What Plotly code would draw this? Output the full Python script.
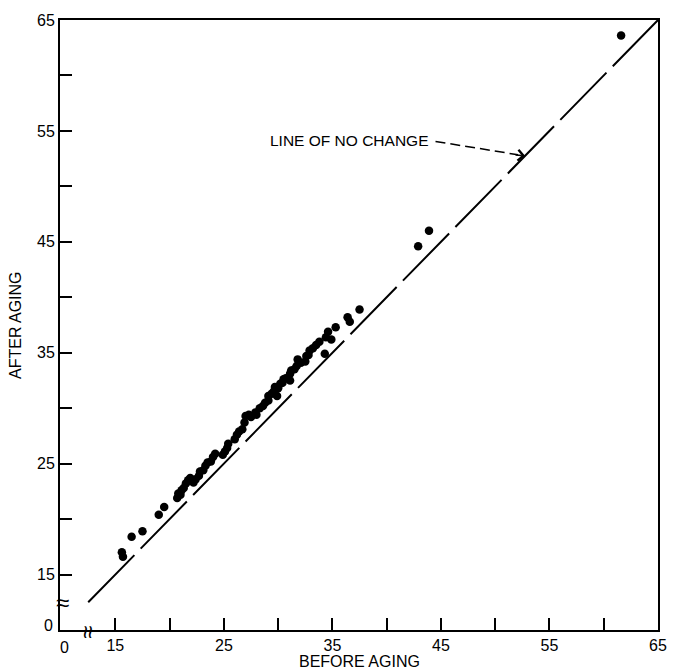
import plotly.graph_objects as go

# values (before aging, after aging)
before = [15.6, 15.7, 16.5, 17.5, 19.0, 19.5,
          20.7, 20.8, 21.1, 21.0, 21.5, 21.3, 21.7, 21.9, 22.2, 22.4, 22.7, 22.8,
          23.1, 23.3, 23.5, 23.8, 24.0, 24.2, 24.9, 25.1, 25.3, 25.4, 26.0, 26.2,
          26.4, 26.7, 26.9, 27.0, 27.3, 27.5, 27.9, 28.0, 28.3, 28.6, 28.8, 29.1,
          29.1, 29.4, 29.6, 29.7, 29.9, 30.0, 30.2, 30.4, 30.5, 30.7, 31.1, 31.1,
          31.2, 31.5, 31.7, 31.8, 32.1, 32.5, 32.6, 32.8, 32.9, 33.2, 33.5, 33.8,
          34.3, 34.4, 34.6, 34.9, 35.3, 36.4, 36.6, 37.5, 42.9, 43.9, 61.6]
after = [17.0, 16.6, 18.4, 18.9, 20.4, 21.1,
         21.9, 22.3, 22.6, 22.2, 23.2, 22.8, 23.5, 23.7, 23.3, 23.6, 23.9, 24.3,
         24.4, 24.8, 25.1, 25.2, 25.6, 25.9, 25.8, 26.1, 26.4, 26.8, 27.2, 27.6,
         27.9, 28.1, 28.7, 29.3, 29.4, 29.2, 29.6, 29.4, 30.0, 30.2, 30.5, 30.7,
         31.1, 31.3, 31.5, 31.9, 31.1, 31.8, 32.2, 32.3, 32.6, 32.7, 33.1, 32.5,
         33.4, 33.5, 33.8, 34.4, 34.1, 34.2, 34.7, 34.8, 35.2, 35.4, 35.7, 36.0,
         34.9, 36.4, 36.9, 36.2, 37.3, 38.2, 37.8, 38.9, 44.6, 46.0, 63.6]

major_ticks = [15, 25, 35, 45, 55, 65]
minor_ticks = [20, 30, 40, 50, 60]
major_labels = ["15", "25", "35", "45", "55", "65"]

x_range = [9.9, 65]
y_range = [10.0, 65]
no_change = [12.5, 65]          # extent of the line of no change
x_zero_pos, y_zero_pos = 10.3, 10.4   # where the broken-axis "0" labels sit
break_pos = 12.6

FONT = "Liberation Sans, Arial, Helvetica, sans-serif"

fig = go.Figure()
fig.add_trace(go.Scatter(x=no_change, y=no_change, mode="lines",
                         line=dict(color="black", width=2, dash="66px,9px"),
                         hoverinfo="skip", showlegend=False))
fig.add_trace(go.Scatter(x=before, y=after, mode="markers",
                         marker=dict(color="black", size=8.5),
                         showlegend=False))

axis_common = dict(
    tickvals=major_ticks, ticktext=major_labels,
    ticks="inside", ticklen=12, tickwidth=1.5, tickcolor="black",
    showline=True, linecolor="black", linewidth=2, mirror=True,
    showgrid=False, zeroline=False,
    minor=dict(tickvals=minor_ticks, ticks="inside", ticklen=12,
               tickwidth=1.5, tickcolor="black", showgrid=False),
    tickfont=dict(family=FONT, size=16, color="black"),
)

fig.update_layout(
    width=679, height=672,
    margin=dict(l=60, r=16, t=20, b=42),
    paper_bgcolor="white", plot_bgcolor="white",
    xaxis=dict(range=x_range, **axis_common),
    yaxis=dict(range=y_range, **axis_common),
    font=dict(family=FONT, color="black"),
)

ann = [
    dict(x=x_zero_pos, y=0, xref="x", yref="paper", text="0", showarrow=False,
         yanchor="top", yshift=-7, font=dict(size=16)),
    dict(x=0, y=y_zero_pos, xref="paper", yref="y", text="0", showarrow=False,
         xanchor="right", xshift=-5, font=dict(size=16)),
    dict(x=0, y=break_pos, xref="paper", yref="y", text="≈", showarrow=False,
         xshift=-6, yshift=-1, font=dict(size=24)),
    dict(x=break_pos, y=0, xref="x", yref="paper", text="≈", showarrow=False,
         textangle=90, yshift=-10, xshift=-1, font=dict(size=24)),
    dict(x=0.5, y=0, xref="paper", yref="paper", text="BEFORE AGING",
         showarrow=False, yanchor="middle", yshift=-31, font=dict(size=16)),
    dict(x=0, y=0.5, xref="paper", yref="paper", text="AFTER AGING",
         showarrow=False, textangle=-90, xanchor="center", xshift=-45,
         font=dict(size=16)),
    dict(x=44.0, y=54.1, xref="x", yref="y", text="LINE OF NO CHANGE",
         showarrow=False, xanchor="right", font=dict(size=15.5)),
    dict(x=52.75, y=52.75, xref="x", yref="y", text="", showarrow=True,
         ax=-11, ay=-1, arrowhead=4, arrowsize=1.4, arrowwidth=1.5,
         arrowcolor="black"),
]
fig.update_layout(annotations=ann)

fig.add_shape(type="line", xref="x", yref="y", x0=44.5, y0=54.05, x1=52.1, y1=52.85,
              line=dict(color="black", width=1.5, dash="10px,5px"))

fig.write_html("out.html")
